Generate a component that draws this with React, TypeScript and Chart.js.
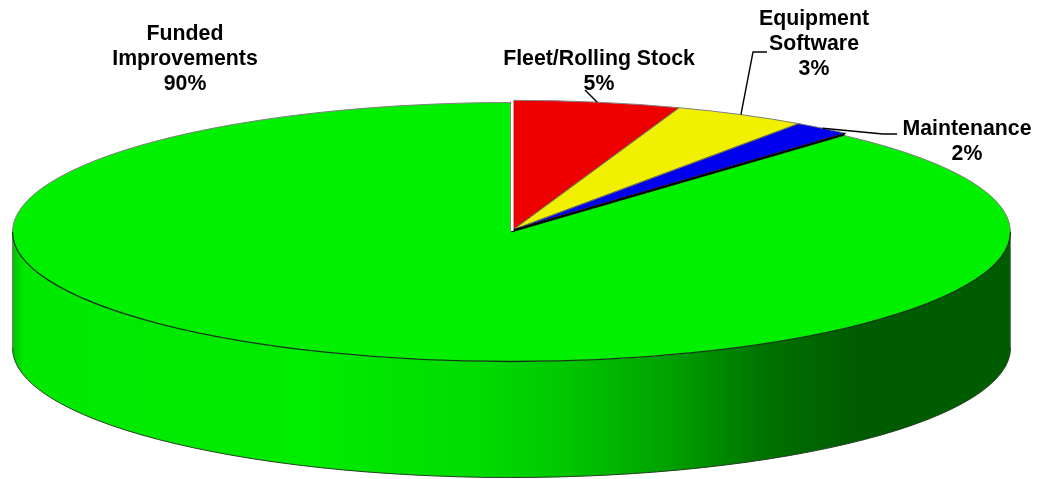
import React, { useEffect, useRef } from "react";
import { Chart, registerables } from "chart.js";

Chart.register(...registerables);

const categories = ["Fleet/Rolling Stock", "Equipment Software", "Maintenance", "Funded Improvements"];
const sliceShares = [5.4, 4.3, 1.9, 88.4];
const printedPercents = ["5%", "3%", "2%", "90%"];
const sliceColors = ["#ee0000", "#f0f000", "#0000ee", "#00f000"];
const labelLines = [["Fleet/Rolling Stock"], ["Equipment", "Software"], ["Maintenance"], ["Funded", "Improvements"]];

const W = 1038;
const H = 479;
const RX = 499;
const RY = 129.5;
const DEPTH = 116;
const SHIFT_X = 1.5;
const SHIFT_Y = -2.2;
const labelBottoms = [
  { x: 599, y: 84 },
  { x: 814, y: 69 },
  { x: 967, y: 154 },
  { x: 185, y: 84 },
];
const leaderElbows: number[][][] = [
  [[585, 90]],
  [[767, 52], [753, 52]],
  [[897, 134], [883, 134]],
  [],
];

const pie3d = {
  id: "pie3d",
  afterDatasetsUpdate(chart: any) {
    // the three small wedges sit slightly lifted out of the green slice
    const arcs = chart.getDatasetMeta(0).data;
    const r = arcs[3].outerRadius;
    for (let i = 0; i < 3; i++) {
      arcs[i].x = arcs[3].x + SHIFT_X * (r / RX);
      arcs[i].y = arcs[3].y + SHIFT_Y * (r / RY);
    }
  },
  beforeDatasetsDraw(chart: any) {
    const { ctx } = chart;
    const el = chart.getDatasetMeta(0).data[3];
    const cx = el.x;
    const cy = el.y;
    const r = el.outerRadius;
    const g = ctx.createLinearGradient(cx - RX, 0, cx + RX, 0);
    g.addColorStop(0, "#00c400");
    g.addColorStop(0.012, "#00e800");
    g.addColorStop(0.3, "#00ec00");
    g.addColorStop(0.46, "#00dc00");
    g.addColorStop(0.55, "#00c800");
    g.addColorStop(0.66, "#00a000");
    g.addColorStop(0.76, "#007000");
    g.addColorStop(0.84, "#005c00");
    g.addColorStop(1, "#005c00");
    ctx.save();
    ctx.beginPath();
    ctx.moveTo(cx - RX, cy);
    ctx.lineTo(cx - RX, cy + DEPTH);
    ctx.ellipse(cx, cy + DEPTH, RX, RY, 0, Math.PI, 0, true);
    ctx.lineTo(cx + RX, cy);
    ctx.ellipse(cx, cy, RX, RY, 0, 0, Math.PI, false);
    ctx.closePath();
    ctx.fillStyle = g;
    ctx.fill();
    ctx.lineWidth = 1;
    ctx.strokeStyle = "#777777";
    ctx.beginPath();
    ctx.moveTo(cx - RX, cy);
    ctx.lineTo(cx - RX, cy + DEPTH);
    ctx.moveTo(cx + RX, cy);
    ctx.lineTo(cx + RX, cy + DEPTH);
    ctx.stroke();
    ctx.strokeStyle = "#244024";
    ctx.beginPath();
    ctx.ellipse(cx, cy + DEPTH, RX, RY, 0, Math.PI, 0, true);
    ctx.stroke();
    ctx.restore();

    ctx.save();
    ctx.translate(cx, cy);
    ctx.scale(RX / r, RY / r);
    ctx.translate(-cx, -cy);
  },
  afterDatasetsDraw(chart: any) {
    const { ctx } = chart;
    ctx.restore();
    const arcs = chart.getDatasetMeta(0).data;
    const green = arcs[3];
    const cx = green.x;
    const cy = green.y;
    const ax = cx + SHIFT_X;
    const ay = cy + SHIFT_Y;
    const rim = (a: number) => [ax + RX * Math.cos(a), ay + RY * Math.sin(a)];
    ctx.save();
    ctx.lineWidth = 1;

    // rim of the green slice
    ctx.strokeStyle = "#808080";
    ctx.beginPath();
    ctx.ellipse(cx, cy, RX, RY, 0, Math.PI, green.endAngle, false);
    ctx.stroke();
    ctx.beginPath();
    ctx.ellipse(cx, cy, RX, RY, 0, green.startAngle, 0.12, false);
    ctx.stroke();
    ctx.strokeStyle = "#143a14";
    ctx.lineWidth = 1.3;
    ctx.beginPath();
    ctx.ellipse(cx, cy, RX, RY, 0, 0, Math.PI, false);
    ctx.stroke();
    ctx.lineWidth = 1;

    // outlines of the lifted wedges
    for (let i = 0; i < 3; i++) {
      const el = arcs[i];
      const a = rim(el.startAngle);
      const b = rim(el.endAngle);
      ctx.strokeStyle = "#6f6f50";
      ctx.beginPath();
      ctx.moveTo(a[0], a[1]);
      ctx.lineTo(ax, ay);
      ctx.lineTo(b[0], b[1]);
      ctx.stroke();
      ctx.strokeStyle = "#808080";
      ctx.beginPath();
      ctx.ellipse(ax, ay, RX, RY, 0, el.startAngle, el.endAngle, false);
      ctx.stroke();
    }

    // black seam filling the small step between the blue and green slices
    const seam = rim(arcs[2].endAngle);
    const gs = [cx + RX * Math.cos(green.startAngle), cy + RY * Math.sin(green.startAngle)];
    ctx.fillStyle = "#000000";
    ctx.strokeStyle = "#000000";
    ctx.lineWidth = 0.8;
    ctx.beginPath();
    ctx.moveTo(ax, ay);
    ctx.lineTo(seam[0], seam[1]);
    ctx.lineTo(gs[0], gs[1]);
    ctx.lineTo(cx, cy);
    ctx.closePath();
    ctx.fill();
    ctx.stroke();

    // white gap with a grey edge at 12 o'clock
    const gapBottom = cy - 1;
    const gapTop = cy - RY - 3;
    ctx.strokeStyle = "#ffffff";
    ctx.lineWidth = 3;
    ctx.beginPath();
    ctx.moveTo(cx + 0.5, gapBottom);
    ctx.lineTo(cx + 0.5, gapTop);
    ctx.stroke();
    ctx.strokeStyle = "#8a8a8a";
    ctx.lineWidth = 1;
    ctx.beginPath();
    ctx.moveTo(cx - 1, gapBottom);
    ctx.lineTo(cx - 1, gapTop + 2);
    ctx.stroke();

    // leader lines end at each slice's mid angle on the rim
    ctx.strokeStyle = "#000000";
    ctx.lineWidth = 1.4;
    leaderElbows.forEach((elbow, i) => {
      if (!elbow.length) return;
      const el = arcs[i];
      const tip = rim((el.startAngle + el.endAngle) / 2);
      ctx.beginPath();
      ctx.moveTo(elbow[0][0], elbow[0][1]);
      elbow.slice(1).forEach((p) => ctx.lineTo(p[0], p[1]));
      ctx.lineTo(tip[0], tip[1]);
      ctx.stroke();
    });

    // labels
    ctx.fillStyle = "#000000";
    ctx.font = 'bold 21.3px "Liberation Sans", Arial, sans-serif';
    ctx.textAlign = "center";
    ctx.textBaseline = "middle";
    categories.forEach((_, i) => {
      const lines = [...labelLines[i], printedPercents[i]];
      lines.forEach((text, k) => {
        const y = labelBottoms[i].y - (lines.length - 1 - k) * 25;
        ctx.fillText(text, labelBottoms[i].x, y);
      });
    });
    ctx.restore();
  },
};

export default function App() {
  const ref = useRef<HTMLCanvasElement | null>(null);
  useEffect(() => {
    const chart = new Chart(ref.current as HTMLCanvasElement, {
      type: "pie",
      data: {
        labels: categories,
        datasets: [
          {
            data: sliceShares,
            backgroundColor: sliceColors,
            borderWidth: 0,
            clip: false,
          } as any,
        ],
      },
      options: {
        responsive: false,
        animation: false,
        layout: { padding: { right: 15, bottom: 15 } },
        plugins: { legend: { display: false }, tooltip: { enabled: false } },
      },
      plugins: [pie3d],
    });
    return () => chart.destroy();
  }, []);
  return (
    <canvas
      ref={ref}
      width={W}
      height={H}
      style={{ position: "absolute", left: 0, top: 0, width: W, height: H, display: "block" }}
    />
  );
}
